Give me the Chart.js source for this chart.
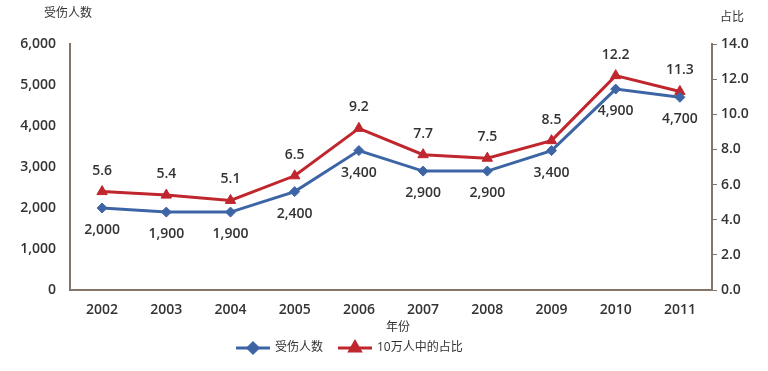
<!DOCTYPE html>
<html>
<head>
<meta charset="utf-8">
<script src="https://cdn.jsdelivr.net/npm/chart.js@4/dist/chart.umd.min.js"></script>
<style>
  html, body { margin: 0; padding: 0; background: #fff; }
  #wrap { width: 768px; height: 371px; }
</style>
</head>
<body>
<div id="wrap"><canvas id="injuries" width="768" height="371"></canvas></div>
<script>
const years = ['2002', '2003', '2004', '2005', '2006', '2007', '2008', '2009', '2010', '2011'];
const injured = [2000, 1900, 1900, 2400, 3400, 2900, 2900, 3400, 4900, 4700];
const ratioPer100k = [5.6, 5.4, 5.1, 6.5, 9.2, 7.7, 7.5, 8.5, 12.2, 11.3];
const seriesNames = ['受伤人数', '10万人中的占比'];
const xTitle = '年份';

const BLUE = '#3d65a5';
const RED = '#c0262d';
const AXIS = '#857468';
const TEXT = '#333333';
const FONT = "'Open Sans', 'Noto Sans CJK SC', sans-serif";

// value labels, legend and the axis captions
const decorations = {
    id: 'decorations',
    afterDatasetsDraw(chart) {
        const ctx = chart.ctx;
        ctx.save();
        ctx.font = `600 14px ${FONT}`;
        ctx.fillStyle = TEXT;
        ctx.textAlign = 'center';
        ctx.textBaseline = 'middle';

        chart.getDatasetMeta(0).data.forEach((pt, i) => {
            ctx.fillText(injured[i].toLocaleString('en-US'), pt.x, pt.y + 22);
        });
        chart.getDatasetMeta(1).data.forEach((pt, i) => {
            ctx.fillText(ratioPer100k[i].toFixed(1), pt.x, pt.y - 21);
        });

        // axis captions
        ctx.font = `12px ${FONT}`;
        ctx.fillText(seriesNames[0], chart.scales.y.right - 2, 14);
        ctx.fillText('占比', chart.scales.y1.left + 20, 18);
        ctx.fillText(xTitle, 398, 328);

        // legend
        const ly = 348;
        const items = [
            { x: 236, color: BLUE, style: 'rectRot', radius: 5, text: seriesNames[0] },
            { x: 338, color: RED, style: 'triangle', radius: 6, text: seriesNames[1] }
        ];
        items.forEach(item => {
            ctx.strokeStyle = item.color;
            ctx.lineWidth = 3;
            ctx.beginPath();
            ctx.moveTo(item.x, ly);
            ctx.lineTo(item.x + 34, ly);
            ctx.stroke();
            ctx.fillStyle = item.color;
            Chart.helpers.drawPoint(ctx, {
                pointStyle: item.style,
                radius: item.radius,
                borderWidth: 1
            }, item.x + 17, ly);
            ctx.fillStyle = TEXT;
            ctx.textAlign = 'left';
            ctx.font = `12px ${FONT}`;
            ctx.fillText(item.text, item.x + 39, ly);
        });
        ctx.restore();
    }
};

const canvas = document.querySelector('#injuries');

new Chart(canvas, {
    type: 'line',
    data: {
        labels: years,
        datasets: [{
            label: seriesNames[0],
            data: injured,
            yAxisID: 'y',
            borderColor: BLUE,
            backgroundColor: BLUE,
            borderWidth: 3,
            pointStyle: 'rectRot',
            pointRadius: 5,
            pointBorderWidth: 1,
            tension: 0
        }, {
            label: seriesNames[1],
            data: ratioPer100k,
            yAxisID: 'y1',
            borderColor: RED,
            backgroundColor: RED,
            borderWidth: 3,
            pointStyle: 'triangle',
            pointRadius: 6,
            pointBorderWidth: 1,
            tension: 0
        }]
    },
    options: {
        responsive: false,
        animation: false,
        devicePixelRatio: 1,
        layout: {
            padding: { top: 44, left: 0, right: 0, bottom: 0 }
        },
        scales: {
            x: {
                offset: true,
                grid: { display: false, drawTicks: false },
                border: { color: AXIS, width: 2 },
                ticks: {
                    padding: 12,
                    color: TEXT,
                    font: { family: FONT, size: 14, weight: '600' }
                },
                afterFit(scale) { scale.height = 81; }
            },
            y: {
                position: 'left',
                min: 0,
                max: 6000,
                grid: { display: false, drawTicks: false },
                border: { color: AXIS, width: 2 },
                ticks: {
                    stepSize: 1000,
                    padding: 14,
                    color: TEXT,
                    font: { family: FONT, size: 14, weight: '600' },
                    callback: value => value.toLocaleString('en-US')
                },
                afterFit(scale) { scale.width = 70; }
            },
            y1: {
                position: 'right',
                min: 0,
                max: 14,
                grid: { drawOnChartArea: false, color: AXIS, tickLength: 5 },
                border: { color: AXIS, width: 2 },
                ticks: {
                    stepSize: 2,
                    padding: 4,
                    color: TEXT,
                    font: { family: FONT, size: 14, weight: '600' },
                    callback: value => value.toFixed(1)
                },
                afterFit(scale) { scale.width = 56; }
            }
        },
        plugins: {
            legend: { display: false },
            tooltip: { enabled: false }
        }
    },
    plugins: [decorations]
});
</script>
</body>
</html>
